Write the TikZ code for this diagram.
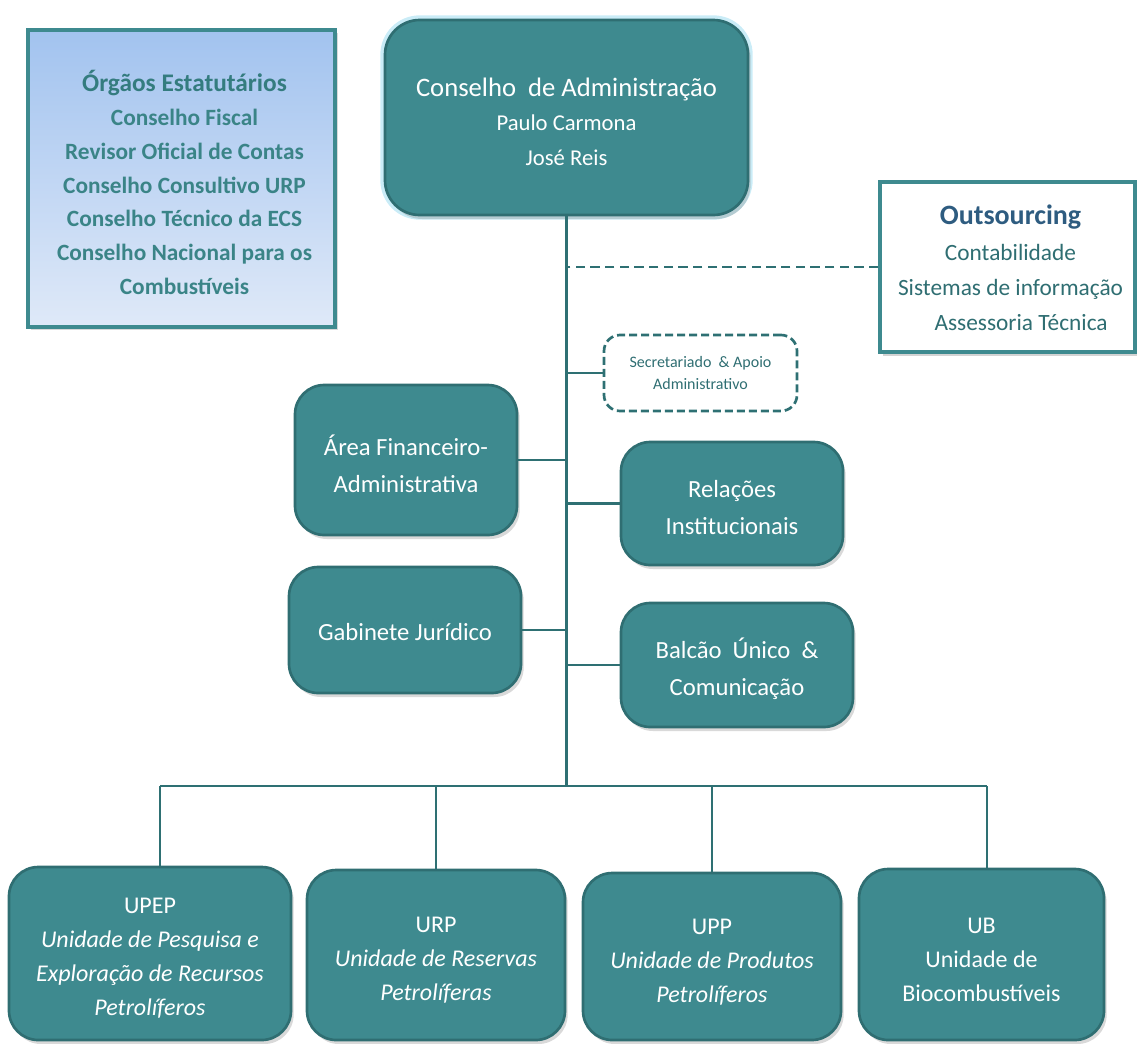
\documentclass[tikz,border=0pt]{standalone}
\usepackage{fontspec}
\setmainfont{Carlito}
\usetikzlibrary{fit,shadows,calc}
\definecolor{tealfill}{HTML}{3E8A8F}
\definecolor{tealedge}{HTML}{2F6E72}
\definecolor{tealline}{HTML}{2E7073}
\definecolor{tealtext}{HTML}{3A8487}
\definecolor{orgtitle}{HTML}{347C7F}
\definecolor{outblue}{HTML}{2E5C80}
\definecolor{glowc}{HTML}{9FDDF0}
\definecolor{orgA}{HTML}{A2C3EF}
\definecolor{orgB}{HTML}{DFE9F8}
\begin{document}
\begin{tikzpicture}[x=0.75pt,y=-0.75pt,
  tealbox/.style={draw=tealedge, line width=2pt, fill=tealfill, rounded corners=22pt,
    inner sep=0pt,
    drop shadow={opacity=0.3, shadow xshift=2pt, shadow yshift=-3pt}},
  wtxt/.style={inner sep=0pt, align=center, text=white},
  midtxt/.style={font=\fontsize{18.5}{27.5}\selectfont},
  bottxt/.style={font=\fontsize{18}{25.5}\selectfont},
  conn/.style={draw=tealline, line width=2.2pt},
  dashconn/.style={draw=tealline, line width=2.2pt, dash pattern=on 7pt off 4pt},
]
\useasboundingbox (0,0) rectangle (1137,1043);

% Organs box
\node[fit={(28,30) (335,327)}, inner sep=0pt, draw=tealfill, line width=2.5pt,
  top color=orgA, bottom color=orgB,
  drop shadow={opacity=0.3, shadow xshift=2pt, shadow yshift=-2pt}] (org) {};
\node[inner sep=0pt, align=center, text=tealtext,
  font=\fontsize{17.5}{25.3}\selectfont\bfseries] (org-t) at ($(org)+(3,4)$)
  {{\color{orgtitle}\fontsize{19}{25.3}\selectfont Órgãos Estatutários}\\
   Conselho Fiscal\\Revisor Oficial de Contas\\Conselho Consultivo URP\\
   Conselho Técnico da ECS\\Conselho Nacional para os\\Combustíveis};

% Board
\draw[glowc, line width=7pt, opacity=0.55, rounded corners=26pt] (385,20) rectangle (748,215);
\node[tealbox, rounded corners=26pt, fit={(385,20) (748,215)}] (ca) {};
\node[wtxt, font=\fontsize{17}{26}\selectfont] (ca-t) at ($(ca)+(0,4)$)
  {{\fontsize{20}{26}\selectfont Conselho\ \ de Administração}\\
   Paulo Carmona\\José Reis};

% Outsourcing
\node[fit={(880,182) (1135,352)}, inner sep=0pt, draw=tealfill, line width=2.5pt, fill=white,
  drop shadow={opacity=0.35, shadow xshift=2pt, shadow yshift=-3pt}] (out) {};
\node[inner sep=0pt, align=center, text=tealedge, font=\fontsize{17.5}{26.5}\selectfont]
  (out-t) at ($(out)+(3,1)$)
  {{\color{outblue}\bfseries\fontsize{21}{26.5}\selectfont Outsourcing}\\
   Contabilidade\\Sistemas de informação\\\ \ \ \ Assessoria Técnica};

% Secretariado
\node[fit={(604,335) (797,411)}, inner sep=0pt, draw=tealline, line width=2pt,
  dash pattern=on 6pt off 3pt, rounded corners=12pt] (sec) {};
\node[inner sep=0pt, align=center, text=tealedge, font=\fontsize{12}{17}\selectfont]
  (sec-t) at ($(sec)+(0,0)$) {Secretariado\ \ \& Apoio\\Administrativo};

% Middle boxes
\node[tealbox, fit={(295,385) (517,535)}] (fin) {};
\node[wtxt, midtxt] (fin-t) at ($(fin)+(0,4)$) {Área Financeiro-\\Administrativa};
\node[tealbox, fit={(621,442) (843,565)}] (rel) {};
\node[wtxt, midtxt] (rel-t) at ($(rel)+(0,4)$) {Relações\\Institucionais};
\node[tealbox, fit={(289,567) (521,693)}] (gab) {};
\node[wtxt, midtxt] (gab-t) at ($(gab)+(0,2)$) {Gabinete Jurídico};
\node[tealbox, fit={(621,603) (853,727)}] (bal) {};
\node[wtxt, midtxt] (bal-t) at ($(bal)+(0,4)$) {Balcão\ \ Único\ \ \&\\Comunicação};

% Bottom units
\node[tealbox, fit={(9,867) (291,1040)}] (upep) {};
\node[wtxt, bottxt] (upep-t) at ($(upep)+(0,5)$)
  {UPEP\\\itshape Unidade de Pesquisa e\\\itshape Exploração de Recursos\\\itshape Petrolíferos};
\node[tealbox, fit={(307,870) (565,1040)}] (urp) {};
\node[wtxt, bottxt] (urp-t) at ($(urp)+(0,5)$)
  {URP\\\itshape Unidade de Reservas\\\itshape Petrolíferas};
\node[tealbox, fit={(583,873) (841,1040)}] (upp) {};
\node[wtxt, bottxt] (upp-t) at ($(upp)+(0,6)$)
  {UPP\\\itshape Unidade de Produtos\\\itshape Petrolíferos};
\node[tealbox, fit={(859,869) (1104,1040)}] (ub) {};
\node[wtxt, bottxt] (ub-t) at ($(ub)+(0,5)$)
  {UB\\Unidade de\\Biocombustíveis};

% Connectors
\coordinate (hub) at (566.5,786);
\coordinate (hl) at (160,786);
\coordinate (hr) at (987,786);
\draw[conn] (ca.south) -- (hub);
\draw[dashconn] (out.west) -- (out.west -| hub);
\draw[conn] (sec.west) -- (sec.west -| hub);
\draw[conn] (fin.east) -- (fin.east -| hub);
\draw[conn] (rel.west) -- (rel.west -| hub);
\draw[conn] (gab.east) -- (gab.east -| hub);
\draw[conn] (bal.west) -- (bal.west -| hub);
\draw[conn] (hl) -- (hr);
\draw[conn, line width=1.8pt] (hl) -- (hl |- upep.north);
\draw[conn, line width=1.8pt] (urp.north) -- (urp.north |- hl);
\draw[conn, line width=1.8pt] (upp.north) -- (upp.north |- hl);
\draw[conn, line width=1.8pt] (hr) -- (hr |- ub.north);
\end{tikzpicture}
\end{document}
